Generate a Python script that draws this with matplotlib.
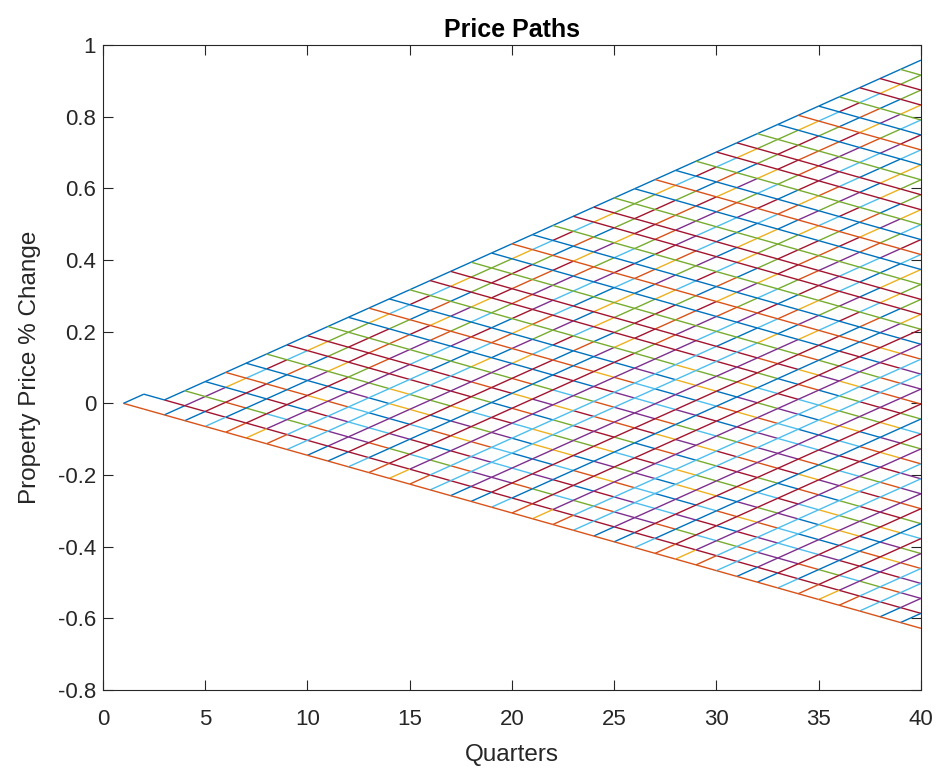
import numpy as np
import matplotlib
matplotlib.use("Agg")
import matplotlib.pyplot as plt
from matplotlib.collections import LineCollection

# lattice step sizes (fractional change per quarter)
step_up = 0.02563
step_down = -0.0161
n_quarters = 40

# opening moves of the two root branches
root_upper = "UD"
root_lower = "DD"

# matlab default line colour order
colour_order = ["#0072BD", "#D95319", "#EDB120", "#7E2F8E",
                "#77AC30", "#4DBEEE", "#A2142F"]

quarters = np.arange(1, n_quarters + 1)
n_rest = n_quarters - 1 - 2

# two-switch paths: a moves one way, b the other, then back again
paths = []
for a in range(n_rest + 1):
    paths.append(root_lower + "D" * a + "U" * (n_rest - a))
    for b in range(n_rest - a + 1):
        c = n_rest - a - b
        paths.append(root_upper + "D" * a + "U" * b + "D" * c)
        paths.append(root_upper + "U" * a + "D" * b + "U" * c)
paths.append(root_lower + "D" * n_rest)

# each branch of the tree shows the colour of the last path drawn over it
branches = {}
for i, moves in enumerate(paths):
    steps = np.array([step_up if m == "U" else step_down for m in moves])
    values = np.concatenate([[0.0], np.cumsum(steps)])
    ups = 0
    for t, m in enumerate(moves):
        key = (t, ups, m)
        branches[key] = (((quarters[t], values[t]), (quarters[t + 1], values[t + 1])),
                         colour_order[i % 7])
        ups += m == "U"

segs = [v[0] for v in branches.values()]
cols = [v[1] for v in branches.values()]

plt.rcParams['font.family'] = ['Liberation Sans', 'DejaVu Sans']
fig = plt.figure(figsize=(9.43, 7.77), dpi=100)
ax = fig.add_axes([0.1092, 0.112, 0.8674, 0.830])
ax.add_collection(LineCollection(segs, colors=cols, linewidths=1.0))

ax.set_xlim(0, 40)
ax.set_ylim(-0.8, 1)
ax.set_xticks(np.arange(0, 41, 5))
ax.set_yticks(np.arange(-0.8, 1.01, 0.2))
ax.set_yticklabels(["-0.8", "-0.6", "-0.4", "-0.2", "0", "0.2", "0.4", "0.6", "0.8", "1"])
axis_grey = "#262626"
ax.tick_params(direction="in", top=True, right=True, length=7, width=0.8,
               labelsize=16, colors=axis_grey)
ax.tick_params(axis="x", pad=14)
ax.tick_params(axis="y", pad=5)
for s in ax.spines.values():
    s.set_color(axis_grey)
    s.set_linewidth(0.8)
ax.set_title("Price Paths", fontsize=18, fontweight="bold", pad=6)
ax.set_xlabel("Quarters", fontsize=17.5, color=axis_grey, labelpad=10)
ax.set_ylabel("Property Price % Change", fontsize=17.5, color=axis_grey, labelpad=12)

fig.savefig("out.png", dpi=100)
